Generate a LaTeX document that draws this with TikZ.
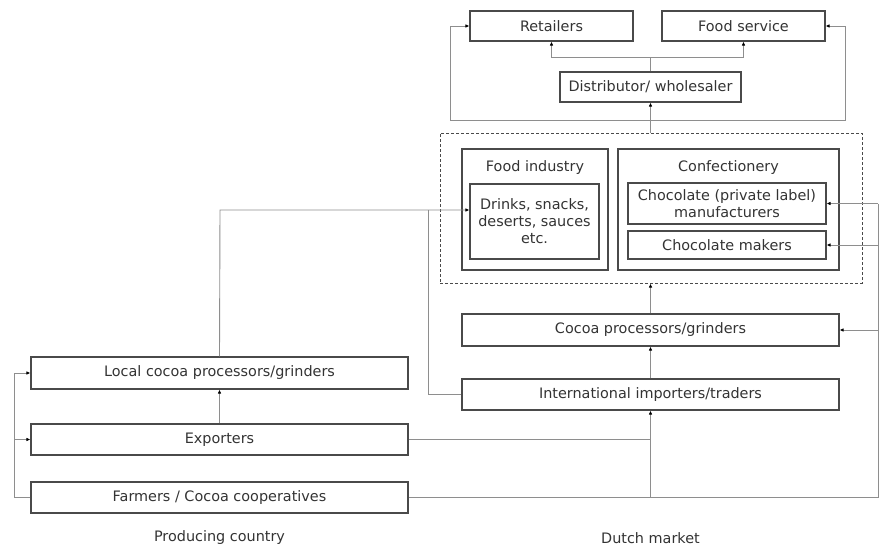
\documentclass[tikz,border=0pt]{standalone}
\usepackage{fontspec}
\setmainfont{DejaVu Sans}
\usetikzlibrary{arrows.meta,calc}
\definecolor{boxc}{HTML}{4A4A4A}
\definecolor{linec}{HTML}{8E8E8E}
\definecolor{txtc}{HTML}{333333}
\begin{document}
\begin{tikzpicture}[x=1pt,y=-1pt,
  box/.style={draw=boxc,line width=1.05pt,inner sep=0pt,text=txtc,align=center,font=\fontsize{14.4}{17}\selectfont},
  dbox/.style={draw=boxc,line width=1pt,dash pattern=on 3pt off 2pt,inner sep=0pt},
  lin/.style={draw=linec,line width=0.9pt},
  arr/.style={lin,-{Latex[length=4pt,width=3.5pt,color=black]}},
  lbl/.style={text=txtc,font=\fontsize{14.4}{17}\selectfont,inner sep=0pt}]
\useasboundingbox (0,0) rectangle (879,546);
% top
\node[box,minimum width=163pt,minimum height=30pt] (ret) at (551.5,26) {Retailers};
\node[box,minimum width=163pt,minimum height=30pt] (fs) at (743.5,26) {Food service};
\node[box,minimum width=181pt,minimum height=30pt] (dist) at (650.5,87) {Distributor/ wholesaler};
% dashed group
\node[dbox,minimum width=422pt,minimum height=150pt] (dash) at (651,208) {};
\node[box,minimum width=146pt,minimum height=121pt] (fi) at (535,209.5) {};
\node[lbl] (fil) at (535,168) {Food industry};
\node[box,minimum width=129pt,minimum height=75pt] (drinks) at (534.5,221.5) {Drinks, snacks,\\deserts, sauces\\etc.};
\node[box,minimum width=221pt,minimum height=121pt] (conf) at (728.5,209.5) {};
\node[lbl] (confl) at (728.5,168) {Confectionery};
\node[box,minimum width=198pt,minimum height=41pt] (cpl) at (727,203.5) {Chocolate (private label)\\manufacturers};
\node[box,minimum width=198pt,minimum height=28pt] (cm) at (727,245) {Chocolate makers};
% dutch market chain
\node[box,minimum width=377pt,minimum height=32pt] (cp) at (650.5,330) {Cocoa processors/grinders};
\node[box,minimum width=377pt,minimum height=31pt] (ii) at (650.5,394.5) {International importers/traders};
% producing country
\node[box,minimum width=377pt,minimum height=32pt] (lcp) at (219.5,373) {Local cocoa processors/grinders};
\node[box,minimum width=377pt,minimum height=31pt] (exp) at (219.5,439.5) {Exporters};
\node[box,minimum width=377pt,minimum height=31pt] (farm) at (219.5,497.5) {Farmers / Cocoa cooperatives};
\node[lbl] (pc) at (219.5,538) {Producing country};
\node[lbl] (dm) at (650.5,538) {Dutch market};
% coordinates
\coordinate (split) at (650.5,57);
\coordinate (j1) at (650.5,120);
\coordinate (lt) at (450,26);
\coordinate (rt) at (845,26);
\coordinate (dk) at (220,210);
\coordinate (ik) at (428,210);
\coordinate (ll) at (14,497.5);
\coordinate (rr) at (878,497.5);
\coordinate (fj) at (650.5,497.5);
% top connectors
\draw[lin] (dist.north) -- (split);
\draw[arr] (split) -| (ret.south);
\draw[arr] (split) -| (fs.south);
\draw[arr] (dash.north -| dist.south) -- (dist.south);
\draw[arr] (j1) -| (lt) -- (ret.west);
\draw[arr] (j1) -| (rt) -- (fs.east);
% to food industry
\draw[arr] (lcp.north) -- (dk) -- (drinks.west |- dk);
\draw[lin] (ii.west) -| (ik);
% dutch chain
\draw[arr] (cp.north) -- (cp.north |- dash.south);
\draw[arr] (ii.north) -- (cp.south);
\draw[arr] (fj) -- (ii.south);
\draw[lin] (exp.east) -- (exp.east -| fj);
\draw[lin] (farm.east) -- (rr);
\draw[lin] (rr) -- (rr |- cpl.east);
\draw[arr] (rr |- cpl.east) -- (cpl.east);
\draw[arr] (rr |- cm.east) -- (cm.east);
\draw[arr] (rr |- cp.east) -- (cp.east);
% producing country
\draw[arr] (exp.north) -- (lcp.south);
\draw[arr] (farm.west) -- (ll) |- (lcp.west);
\draw[arr] (ll |- exp.west) -- (exp.west);
\end{tikzpicture}
\end{document}
